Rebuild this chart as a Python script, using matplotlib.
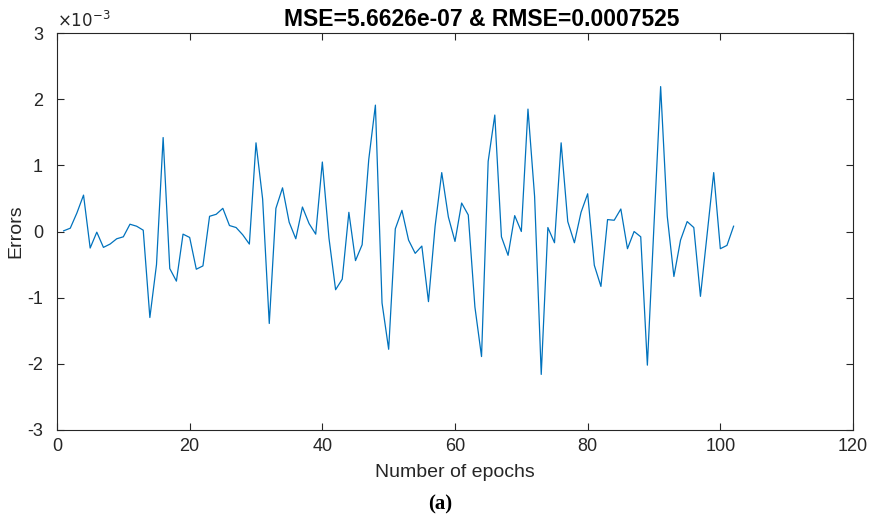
import matplotlib as mpl
mpl.use('Agg')
import matplotlib.pyplot as plt
from matplotlib.ticker import FuncFormatter
import numpy as np

mpl.rcParams['font.family'] = 'Liberation Sans'
mpl.rcParams['axes.unicode_minus'] = False

# -- Data (errors in units of 1e-3).
epochs = np.arange(1, 103)
errors_e3 = [
    0.01, 0.05, 0.28, 0.55, -0.25, -0.01, -0.24, -0.19, -0.11, -0.08,
    0.11, 0.08, 0.02, -1.30, -0.50, 1.42, -0.56, -0.75, -0.04, -0.09,
    -0.57, -0.52, 0.23, 0.26, 0.35, 0.09, 0.06, -0.05, -0.19, 1.34,
    0.49, -1.39, 0.35, 0.66, 0.14, -0.11, 0.37, 0.12, -0.04, 1.05,
    -0.10, -0.88, -0.72, 0.29, -0.44, -0.20, 1.09, 1.91, -1.08, -1.78,
    0.04, 0.32, -0.13, -0.33, -0.22, -1.06, 0.08, 0.89, 0.22, -0.15,
    0.43, 0.25, -1.14, -1.89, 1.06, 1.76, -0.08, -0.36, 0.24, 0.00,
    1.85, 0.53, -2.16, 0.06, -0.17, 1.34, 0.15, -0.17, 0.29, 0.57,
    -0.51, -0.83, 0.18, 0.17, 0.34, -0.26, 0.00, -0.08, -2.02, 0.10,
    2.19, 0.23, -0.68, -0.13, 0.15, 0.06, -0.98, -0.05, 0.89, -0.26,
    -0.21, 0.08,
]
errors = np.array(errors_e3) * 1e-3

title = "MSE=5.6626e-07 & RMSE=0.0007525"
x_ticks = [0, 20, 40, 60, 80, 100, 120]
y_ticks = [-3e-3, -2e-3, -1e-3, 0, 1e-3, 2e-3, 3e-3]

# -- Figure.
fig = plt.figure(figsize=(8.81, 5.19), dpi=100)
ax = fig.add_axes([57/881, 1-430/519, (853-57)/881, (430-33)/519])

ax.plot(epochs, errors, color='#0072BD', lw=0.9)

ax.set_xlim(0, 120)
ax.set_ylim(-3e-3, 3e-3)
ax.set_xticks(x_ticks)
ax.set_yticks(y_ticks)
ax.yaxis.set_major_formatter(FuncFormatter(lambda v, p: "%g" % round(v*1e3, 6)))
ax.text(0.0, 1.008, r"$\times10^{-3}$", transform=ax.transAxes,
        ha='left', va='bottom', fontsize=12, color='#262626')

for s in ax.spines.values():
    s.set_color('#262626')
    s.set_linewidth(0.8)
ax.tick_params(direction='in', length=5, width=0.8, colors='#262626',
               labelsize=13, top=True, right=True)
ax.tick_params(axis='x', pad=6)
ax.tick_params(axis='y', pad=10)

ax.set_title(title, fontsize=16.5, fontweight='bold', pad=5, x=0.533)
ax.set_xlabel("Number of epochs", fontsize=14, color='#262626', labelpad=6)
ax.set_ylabel("Errors", fontsize=14, color='#262626', labelpad=2)

fig.text(0.5, 0.028, "(a)", ha='center', va='center', fontsize=15,
         fontweight='bold', family='Liberation Serif')

plt.savefig("out.png", dpi=100)
